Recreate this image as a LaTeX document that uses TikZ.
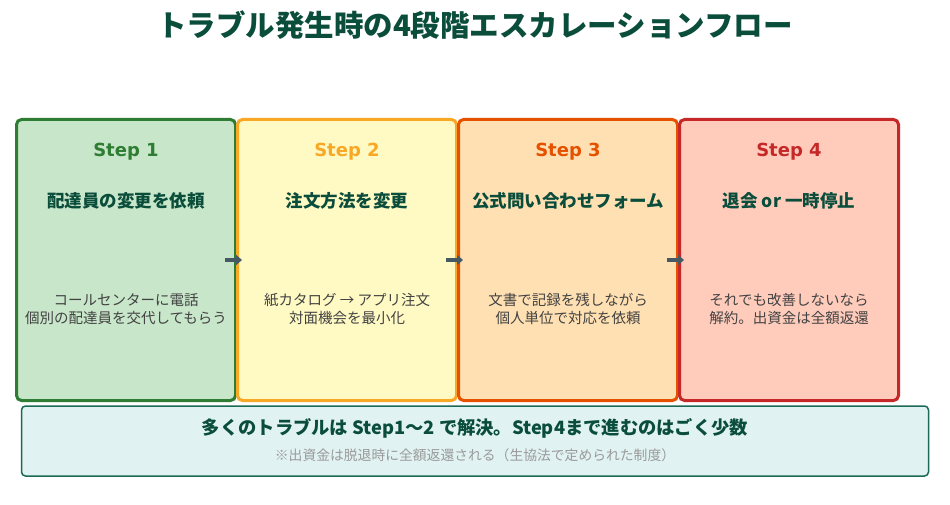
\documentclass[tikz,border=0pt]{standalone}
\usepackage{fontspec}
\usepackage{xcolor}
\usetikzlibrary{arrows.meta}
\newfontfamily\jp{Noto Sans CJK JP}
\newfontfamily\dv{DejaVu Sans}
\definecolor{titlegreen}{HTML}{0B4D3B}
\definecolor{textgray}{HTML}{424242}
\definecolor{notegray}{HTML}{9A9A9A}
\definecolor{arrowgray}{HTML}{455A64}
\definecolor{lineA}{HTML}{2E7D32}
\definecolor{fillA}{HTML}{C8E6C9}
\definecolor{lineB}{HTML}{F9A825}
\definecolor{fillB}{HTML}{FFF9C4}
\definecolor{lineC}{HTML}{E65100}
\definecolor{fillC}{HTML}{FFE0B2}
\definecolor{lineD}{HTML}{C62828}
\definecolor{fillD}{HTML}{FFCCBC}
\definecolor{noteline}{HTML}{1B6A55}
\definecolor{notefill}{HTML}{E0F2F1}

\begin{document}
\begin{tikzpicture}[
  x=1pt,y=-1pt,
  stepbox/.style={rectangle,rounded corners=5pt,line width=3pt,minimum width=219pt,minimum height=281pt,inner sep=0pt},
  steplbl/.style={font=\dv\bfseries\fontsize{18}{22}\selectfont},
  stephead/.style={text=titlegreen,font=\jp\bfseries\fontsize{17.5}{21}\selectfont},
  stepdesc/.style={text=textgray,align=center,font=\jp\fontsize{14.5}{18}\selectfont},
  flow/.style={-{Triangle[length=6pt,width=10pt]},arrowgray,line width=3.5pt},
  every node/.style={inner sep=0pt}
]
  \useasboundingbox[fill=white] (0,0) rectangle (950,505);

  % title
  \node[text=titlegreen,font=\jp\bfseries\fontsize{29.5}{34}\selectfont] (title) at (475,25) {トラブル発生時の4段階エスカレーションフロー};

  % step boxes
  \node[stepbox,draw=lineA,fill=fillA] (s1) at (126,260) {};
  \node[stepbox,draw=lineB,fill=fillB] (s2) at (347,260) {};
  \node[stepbox,draw=lineC,fill=fillC] (s3) at (568,260) {};
  \node[stepbox,draw=lineD,fill=fillD] (s4) at (789,260) {};

  \node[steplbl,text=lineA] (s1l) at (126,152) {Step 1};
  \node[steplbl,text=lineB] (s2l) at (347,152) {Step 2};
  \node[steplbl,text=lineC] (s3l) at (568,152) {Step 3};
  \node[steplbl,text=lineD] (s4l) at (789,152) {Step 4};

  \node[stephead] (s1h) at (126,201) {配達員の変更を依頼};
  \node[stephead] (s2h) at (347,201) {注文方法を変更};
  \node[stephead] (s3h) at (568,201) {公式問い合わせフォーム};
  \node[stephead] (s4h) at (789,201) {退会 or 一時停止};

  \node[stepdesc] (s1d) at (126,309) {コールセンターに電話\\個別の配達員を交代してもらう};
  \node[stepdesc] (s2d) at (347,309) {紙カタログ → アプリ注文\\対面機会を最小化};
  \node[stepdesc] (s3d) at (568,309) {文書で記録を残しながら\\個人単位で対応を依頼};
  \node[stepdesc] (s4d) at (789,309) {それでも改善しないなら\\解約。出資金は全額返還};

  % arrows between steps
  \draw[flow] ([xshift=-12pt]s1.east) -- ([xshift=6pt]s2.west);
  \draw[flow] ([xshift=-12pt]s2.east) -- ([xshift=6pt]s3.west);
  \draw[flow] ([xshift=-12pt]s3.east) -- ([xshift=6pt]s4.west);

  % summary box
  \node[rectangle,rounded corners=4pt,draw=noteline,fill=notefill,line width=1.5pt,minimum width=907pt,minimum height=70pt] (note) at (475,441) {};
  \node[text=titlegreen,font=\jp\bfseries\fontsize{18.3}{21}\selectfont] (notemain) at (475,428) {多くのトラブルは Step1〜2 で解決。Step4まで進むのはごく少数};
  \node[text=notegray,font=\jp\fontsize{13.8}{16}\selectfont] (notesub) at (475,455) {※出資金は脱退時に全額返還される（生協法で定められた制度）};
\end{tikzpicture}
\end{document}
